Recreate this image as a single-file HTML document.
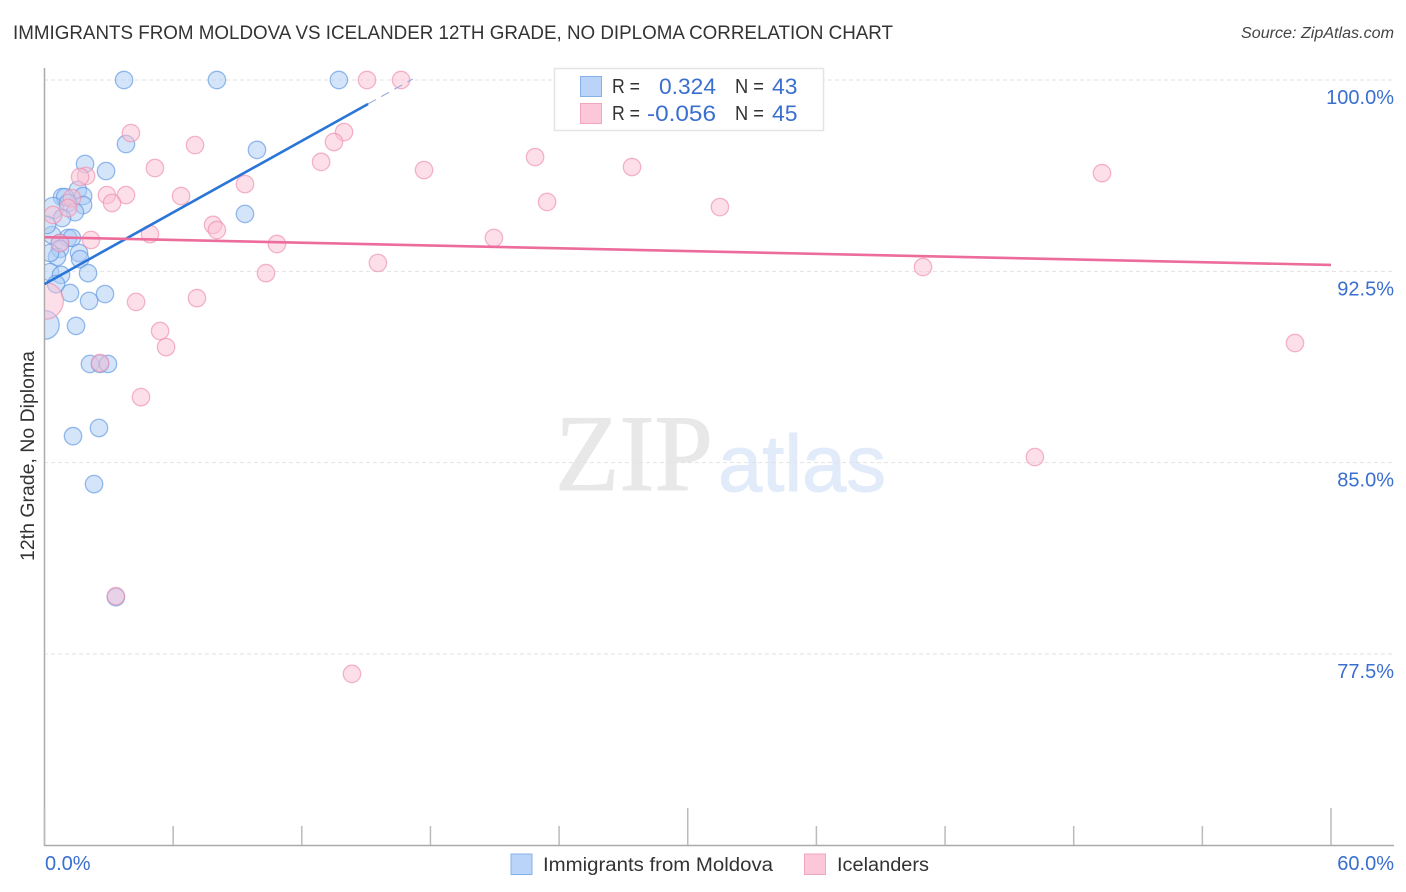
<!DOCTYPE html>
<html><head><meta charset="utf-8"><title>Correlation chart</title>
<style>
html,body{margin:0;padding:0;background:#fff}
svg{display:block}
text{font-family:"Liberation Sans",sans-serif}
</style></head>
<body>
<svg id="chart" xmlns="http://www.w3.org/2000/svg" width="1406" height="892" viewBox="0 0 1406 892">
<text x="13" y="39" font-size="19" fill="#333" textLength="880" lengthAdjust="spacingAndGlyphs">IMMIGRANTS FROM MOLDOVA VS ICELANDER 12TH GRADE, NO DIPLOMA CORRELATION CHART</text>
<text x="1241" y="38" font-size="15.5" font-style="italic" fill="#444" textLength="153" lengthAdjust="spacingAndGlyphs">Source: ZipAtlas.com</text>
<g>
<text x="555" y="490" font-size="109" fill="#e8e8e8" stroke="#e8e8e8" stroke-width="1" style="font-family:'Liberation Serif',serif" textLength="158" lengthAdjust="spacingAndGlyphs">ZIP</text>
<text x="718" y="491" font-size="80" fill="#e2ebf9" stroke="#e2ebf9" stroke-width="1" textLength="168" lengthAdjust="spacingAndGlyphs">atlas</text>
</g>
<g id="grid"></g>
<g id="axes"></g>
<g id="blue"></g>
<g id="pink"></g>
<g id="lines"></g>
<text transform="translate(34,456) rotate(-90)" font-size="19" fill="#333" text-anchor="middle" textLength="210" lengthAdjust="spacingAndGlyphs">12th Grade, No Diploma</text>
<g>
<rect x="554.5" y="68.5" width="269" height="62" fill="#fff" fill-opacity="0.9" stroke="#e4e4e4" stroke-width="1.5"/>
<rect x="580.5" y="76.5" width="21" height="20" fill="#b9d4f8" stroke="#86b0e8" stroke-width="1"/>
<rect x="580.5" y="103.5" width="21" height="20" fill="#fcc8d9" stroke="#f0a6bf" stroke-width="1"/>
<g font-size="20">
<text x="612" y="93" fill="#333" textLength="28" lengthAdjust="spacingAndGlyphs">R =</text>
<text x="659" y="94" fill="#3a6fd0" font-size="22" textLength="57" lengthAdjust="spacingAndGlyphs">0.324</text>
<text x="735" y="93" fill="#333" textLength="29" lengthAdjust="spacingAndGlyphs">N =</text>
<text x="772" y="94" fill="#3a6fd0" font-size="22" textLength="25.5" lengthAdjust="spacingAndGlyphs">43</text>
<text x="612" y="120" fill="#333" textLength="28" lengthAdjust="spacingAndGlyphs">R =</text>
<text x="647" y="121" fill="#3a6fd0" font-size="22" textLength="69" lengthAdjust="spacingAndGlyphs">-0.056</text>
<text x="735" y="120" fill="#333" textLength="29" lengthAdjust="spacingAndGlyphs">N =</text>
<text x="772" y="121" fill="#3a6fd0" font-size="22" textLength="25.5" lengthAdjust="spacingAndGlyphs">45</text>
</g>
</g>
<g>
<rect x="511" y="854" width="21" height="20.5" fill="#b9d4f8" stroke="#86b0e8" stroke-width="1"/>
<text x="543" y="871" font-size="19" fill="#333" textLength="230" lengthAdjust="spacingAndGlyphs">Immigrants from Moldova</text>
<rect x="804.5" y="854" width="21" height="20.5" fill="#fcc8d9" stroke="#f0a6bf" stroke-width="1"/>
<text x="837" y="871" font-size="19" fill="#333" textLength="92" lengthAdjust="spacingAndGlyphs">Icelanders</text>
</g>
</svg>
<script>
const yTickValues = [100, 92.5, 85, 77.5];
const yTickLabels = ["100.0%", "92.5%", "85.0%", "77.5%"];
const xTickValues = [0, 6, 12, 18, 24, 30, 36, 42, 48, 54, 60];
const xMajorTicks = [0, 30, 60];
const xEndLabels = ["0.0%", "60.0%"];

const moldovaX = [3.71,8.04,13.73,3.80,9.91,1.89,2.87,1.56,0.82,0.96,1.80,0.40,1.10,1.80,1.42,0.82,9.35,0.35,1.10,1.28,0.72,0.72,0.58,0.12,0.26,1.61,1.66,0.26,0.77,2.03,0.54,1.19,2.82,2.08,0.02,1.47,2.12,2.59,2.96,2.54,1.33,2.31,3.33];
const moldovaY = [100,100,100,97.49,97.26,96.71,96.43,95.69,95.41,95.41,95.45,94.98,95.18,95.10,94.82,94.59,94.75,93.92,93.81,93.81,93.61,93.38,93.06,94.32,93.22,93.22,92.98,92.47,92.36,92.43,92.00,91.65,91.61,91.34,90.40,90.36,88.87,88.87,88.87,86.36,86.04,84.16,79.73];
const moldovaWeight = [1,1,1,1,1,1,1,1,1,1,1,1.5,1,1,1,1,1,1,1,1,1,1,1,1,1,1,1,1,1,1,1,1,1,1,2.7,1,1,1,1,1,1,1,1];

const icelanderX = [4.03,7.02,5.15,1.94,1.66,2.91,3.80,3.15,6.37,9.35,7.86,8.04,4.92,2.17,10.84,10.33,0.40,1.28,0.72,1.10,0.02,4.27,7.11,5.39,5.67,4.50,2.59,3.33,14.34,15.04,16.63,13.97,13.50,12.90,17.70,15.55,20.96,22.88,23.44,27.40,31.50,40.97,46.19,49.32,58.32];
const icelanderY = [97.92,97.45,96.55,96.24,96.20,95.49,95.49,95.18,95.45,95.92,94.32,94.12,93.96,93.73,93.57,92.43,94.71,95.37,93.61,94.98,91.34,91.30,91.45,90.16,89.53,87.57,88.91,79.77,76.72,100,100,97.96,97.57,96.79,96.47,92.83,93.81,96.98,95.22,96.59,95.02,92.67,85.22,96.35,89.69];
const icelanderWeight = [1,1,1,1,1,1,1,1,1,1,1,1,1,1,1,1,1,1,1,1,4.5,1,1,1,1,1,1,1,1,1,1,1,1,1,1,1,1,1,1,1,1,1,1,1,1];

const moldovaTrendX = [0, 15.09];
const moldovaTrendY = [92.0, 99.06];
const moldovaDashX = [15.09, 17.18];
const moldovaDashY = [99.06, 100.04];
const icelanderTrendX = [0, 60];
const icelanderTrendY = [93.84, 92.75];

const NS = "http://www.w3.org/2000/svg";
function xScale(v){ return 44.5 + v * (1331 - 44.5) / 60; }
function yScale(v){ return 80 + (100 - v) * (654 - 80) / 22.5; }
function make(tag, attrs, parent){
  const el = document.createElementNS(NS, tag);
  for (const k in attrs) el.setAttribute(k, attrs[k]);
  parent.appendChild(el);
  return el;
}
const grid = document.getElementById("grid");
const axes = document.getElementById("axes");
yTickValues.forEach(function(v, i){
  const line = make("line", {x1:44, x2:1394, y1:yScale(v), y2:yScale(v), stroke:"#e2e2e2", "stroke-width":1, "stroke-dasharray":"4 3"}, grid);
  
  
  const label = make("text", {x:1394, y:yScale(v) + 24, "text-anchor":"end", "font-size":20, fill:"#3a6fd0"}, axes);
  label.textContent = yTickLabels[i];
  
  
});
const yAxis = make("line", {x1:44.5, x2:44.5, y1:68, y2:846, stroke:"#aaa", "stroke-width":1.5}, axes);


const xAxis = make("line", {x1:44, x2:1394, y1:845.5, y2:845.5, stroke:"#aaa", "stroke-width":1.5}, axes);


xTickValues.forEach(function(v){
  const major = xMajorTicks.indexOf(v) >= 0;
  const tick = make("line", {x1:xScale(v), x2:xScale(v), y1:major ? 808 : 826, y2:845, stroke:"#bbb", "stroke-width":1.5}, axes);
  
  
});
const xLabelStart = make("text", {x:45, y:870, "font-size":20, fill:"#3a6fd0"}, axes);
xLabelStart.textContent = xEndLabels[0];


const xLabelEnd = make("text", {x:1394, y:870, "font-size":20, fill:"#3a6fd0", "text-anchor":"end"}, axes);
xLabelEnd.textContent = xEndLabels[1];



function drawPoints(groupId, xs, ys, ws, fill, stroke){
  const g = document.getElementById(groupId);
  xs.forEach(function(x, i){
    const c = make("circle", {cx:xScale(x), cy:yScale(ys[i]), r:8.7 * Math.sqrt(ws[i]), fill:fill, "fill-opacity":0.5, stroke:stroke, "stroke-opacity":0.65, "stroke-width":1.3, "clip-path":"url(#plot-clip)"}, g);
    
    
  });
}
const defs = make("defs", {}, document.getElementById("chart"));
const clip = make("clipPath", {id:"plot-clip"}, defs);
make("rect", {x:45, y:60, width:1360, height:790}, clip);
drawPoints("pink", icelanderX, icelanderY, icelanderWeight, "#fbbfd3", "#ee8fae");
drawPoints("blue", moldovaX, moldovaY, moldovaWeight, "#a9cbf5", "#5f97e0");

const lines = document.getElementById("lines");
const trendA = make("line", {x1:xScale(moldovaTrendX[0]), y1:yScale(moldovaTrendY[0]), x2:xScale(moldovaTrendX[1]), y2:yScale(moldovaTrendY[1]), stroke:"#2a75d8", "stroke-width":2.6}, lines);


const trendDash = make("line", {x1:xScale(moldovaDashX[0]), y1:yScale(moldovaDashY[0]), x2:xScale(moldovaDashX[1]), y2:yScale(moldovaDashY[1]), stroke:"#8fa8d8", "stroke-width":1, "stroke-dasharray":"9 6"}, lines);


const trendB = make("line", {x1:xScale(icelanderTrendX[0]), y1:yScale(icelanderTrendY[0]), x2:xScale(icelanderTrendX[1]), y2:yScale(icelanderTrendY[1]), stroke:"#ec6c9b", "stroke-width":2.6}, lines);


</script>
</body></html>
